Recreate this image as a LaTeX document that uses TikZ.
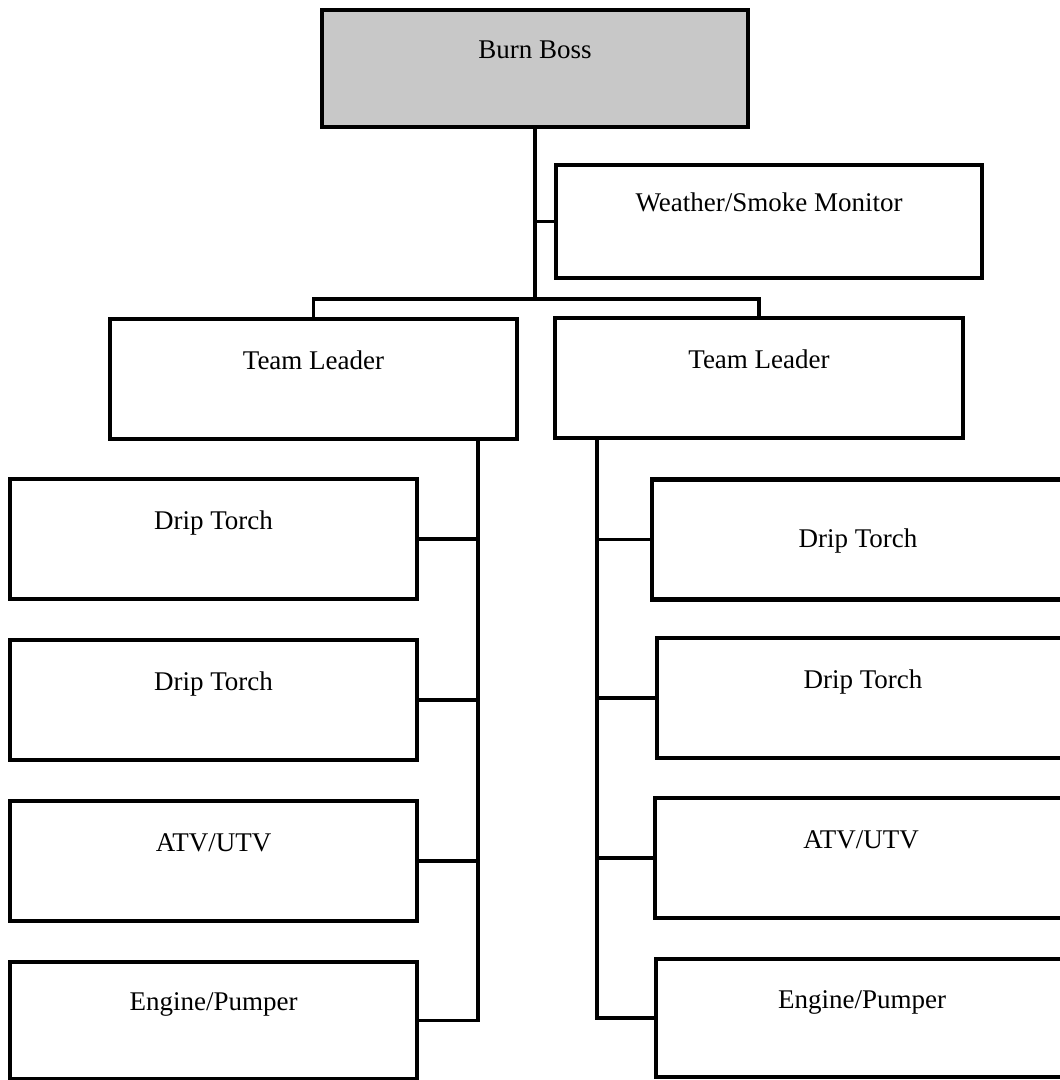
\documentclass[tikz,border=0pt]{standalone}
\usepackage{fontspec}
\setmainfont{Liberation Serif}
\definecolor{bossgray}{RGB}{200,200,200}
\tikzset{box/.style = {draw, line width=3pt, minimum width=10.175cm, minimum height=3cm,
    font=\fontsize{19.2}{22}\selectfont, text height=12pt, text depth=26pt}}
\tikzset{wide/.style = {minimum width=10.3cm}}
\tikzset{link/.style = {line width=2.6pt}}

\begin{document}
\begin{tikzpicture}[x=0.025cm, y=-0.025cm]
    \useasboundingbox (0,0) rectangle (1060,1080);

    % Top of the chart
    \node[box, fill=bossgray, minimum width=10.65cm, minimum height=2.925cm] (boss) at (535,68.5) {Burn Boss};
    \node[box, minimum width=10.65cm, minimum height=2.825cm] (wx) at (769,221.5) {Weather/Smoke Monitor};
    \node[box] (leadL) at (313.5,379) {Team Leader};
    \node[box, minimum width=10.2cm] (leadR) at (759,378) {Team Leader};

    % Left crew
    \node[box] (torchL1) at (213.5,539) {Drip Torch};
    \node[box] (torchL2) at (213.5,700) {Drip Torch};
    \node[box] (atvL) at (213.5,861) {ATV/UTV};
    \node[box, minimum height=2.925cm] (engineL) at (213.5,1020.5) {Engine/Pumper};

    % Right crew
    \node[box, wide, text depth=0pt] (torchR1) at (858,539.5) {Drip Torch};
    \node[box, wide] (torchR2) at (863,698) {Drip Torch};
    \node[box, wide] (atvR) at (861,858) {ATV/UTV};
    \node[box, wide, minimum height=2.95cm] (engineR) at (862,1018) {Engine/Pumper};

    % Connectors
    \coordinate (barY) at (0,299);
    \coordinate (spineL) at (478,0);
    \coordinate (spineR) at (597,0);

    \draw[link] (boss.south) -- (boss.south |- barY);
    \draw[link] (wx.west) -- (wx.west -| boss.south);
    \draw[link] (leadL.north) -- (leadL.north |- barY) -- (leadR.north |- barY) -- (leadR.north);

    \draw[link] (leadL.south -| spineL) -- (engineL.east -| spineL) -- (engineL.east);
    \draw[link] (torchL1.east) -- (torchL1.east -| spineL);
    \draw[link] (torchL2.east) -- (torchL2.east -| spineL);
    \draw[link] (atvL.east) -- (atvL.east -| spineL);

    \draw[link] (leadR.south -| spineR) -- (engineR.west -| spineR) -- (engineR.west);
    \draw[link] (torchR1.west) -- (torchR1.west -| spineR);
    \draw[link] (torchR2.west) -- (torchR2.west -| spineR);
    \draw[link] (atvR.west) -- (atvR.west -| spineR);
\end{tikzpicture}
\end{document}
